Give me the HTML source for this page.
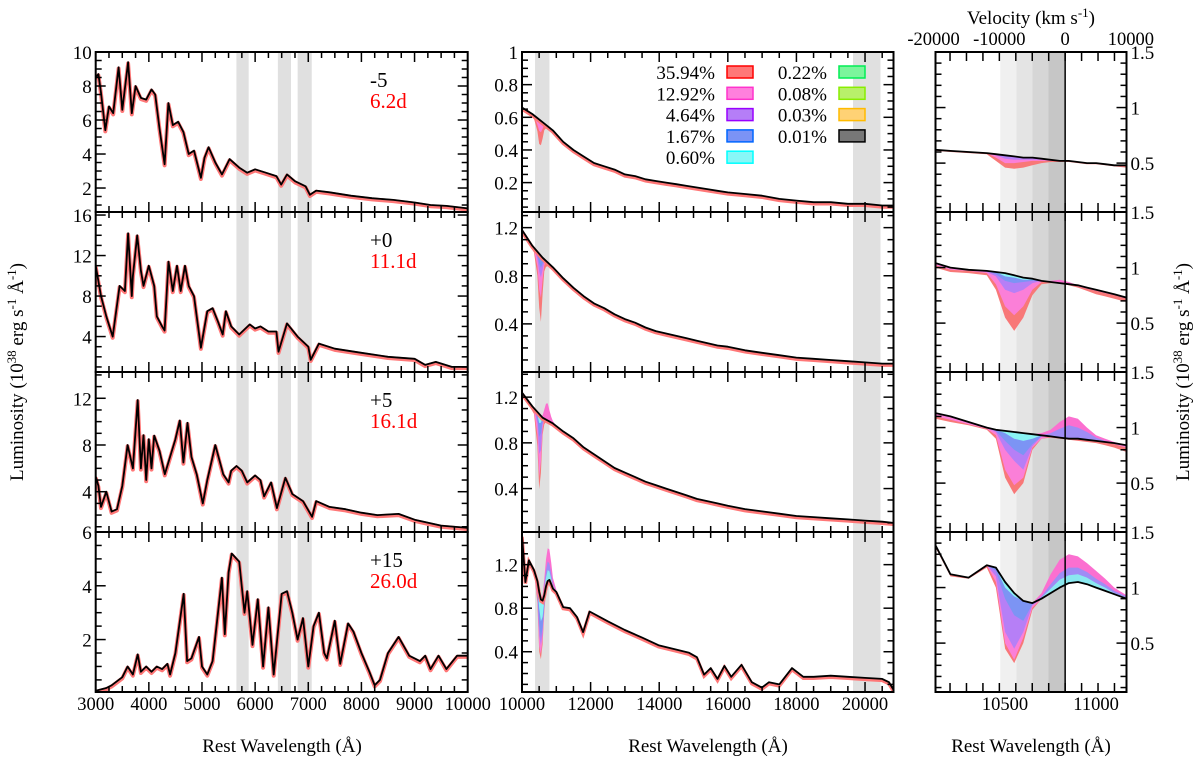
<!DOCTYPE html>
<html><head><meta charset="utf-8"><style>
html,body{margin:0;padding:0;background:#fff;}
svg{display:block;font-family:"Liberation Serif","DejaVu Serif",serif;}
svg text{font-family:"Liberation Serif","DejaVu Serif",serif;}
</style></head><body>
<svg id="fig" width="1200" height="761" viewBox="0 0 1200 761" font-family="Liberation Serif, DejaVu Serif, serif"></svg>
<script>
// ---------- DATA ----------
const leftWave1=[3000,3050,3100,3180,3250,3330,3430,3500,3610,3680,3750,3850,3950,4050,4120,4200,4297,4368,4450,4550,4650,4750,4850,4980,5050,5125,5250,5377,5520,5700,5850,6000,6200,6400,6490,6600,6750,6950,7030,7150,7400,7800,8200,8600,9000,9300,9600,10000];
const leftLum1=[8.5,8.7,7.6,5.4,6.8,6.4,9.1,6.6,9.4,6.4,8.0,7.3,7.2,7.8,7.5,5.5,3.4,7.0,5.7,5.9,5.3,4.0,4.2,2.6,3.8,4.4,3.5,2.8,3.7,3.2,2.9,3.1,2.9,2.7,2.2,2.8,2.4,2.1,1.6,1.85,1.75,1.55,1.4,1.3,1.15,1.0,0.95,0.8];
const leftWave2=[3000,3100,3200,3320,3450,3550,3610,3680,3700,3780,3850,3900,4000,4100,4150,4250,4297,4370,4450,4530,4600,4680,4750,4850,4980,5100,5200,5300,5390,5450,5550,5700,5900,6000,6100,6250,6400,6440,6600,6800,7000,7046,7200,7500,8000,8500,9000,9200,9400,9700,10000];
const leftLum2=[11,8,6,4.0,9,8.5,14.2,8,10,14,10.5,9,11,9,6,5,4.6,11.4,8.5,11,8.5,11,9,8,2.9,6.5,6.8,5.5,4.2,6.5,5,4.2,5.2,4.8,5,4.5,4.5,2.5,5.3,4,3,1.7,3.3,2.8,2.4,2.0,1.8,1.2,1.5,1.0,1.0];
const leftWave3=[3000,3050,3100,3200,3300,3400,3500,3600,3700,3790,3850,3900,3950,4000,4050,4100,4200,4300,4400,4500,4583,4650,4727,4800,4900,5015,5100,5250,5400,5500,5550,5650,5750,5850,6000,6100,6168,6300,6410,6570,6700,6900,7072,7150,7400,7700,8000,8300,8700,9000,9500,10000];
const leftLum3=[5.3,4.5,2.7,4,2.3,2.5,4.5,8,6,11.85,6,8.85,5,8.5,6,8.8,7.5,5.5,7,8.5,10.1,6.5,9.9,7,5.5,3.0,5,8.0,5.5,4.8,5.8,6.2,5.8,4.8,5.4,5,3.6,4.8,2.6,5.2,3.8,3.2,1.85,3.2,2.7,2.5,2.2,2.0,2.1,1.6,1.1,0.9];
const leftWave4=[3000,3200,3300,3500,3600,3700,3790,3850,3950,4050,4150,4250,4350,4400,4500,4655,4720,4800,4944,5000,5100,5200,5375,5430,5500,5560,5700,5800,5850,5950,6050,6150,6250,6350,6500,6600,6700,6800,6900,7000,7100,7200,7300,7350,7500,7600,7750,7850,8000,8150,8250,8350,8500,8700,8900,9100,9200,9300,9450,9600,9800,10000];
const leftLum4=[0.1,0.2,0.3,0.6,1.0,0.7,1.45,0.8,1.0,0.8,1.0,0.9,1.1,0.7,1.5,3.7,1.2,1.3,2.1,1.0,0.7,1.2,4.3,2.2,4.5,5.2,4.9,3.0,3.8,1.8,3.5,1.0,3.2,0.7,3.7,3.8,3.0,2.0,2.8,1.0,2.5,3.0,1.5,1.3,2.7,1.1,2.6,2.3,1.5,0.8,0.3,0.5,1.5,2.1,1.4,1.2,1.4,0.9,1.4,0.9,1.4,1.4];

const midWave=[10000,10300,10600,10900,11200,11500,11800,12100,12400,12700,13000,13300,13600,13900,14200,14500,14800,15100,15400,15700,16000,16500,17000,17500,18000,18500,19000,19500,20000,20500,20830];
const midLum1=[0.66,0.62,0.57,0.52,0.45,0.40,0.36,0.32,0.30,0.28,0.25,0.24,0.22,0.21,0.20,0.19,0.18,0.17,0.16,0.15,0.14,0.13,0.12,0.10,0.09,0.08,0.08,0.07,0.07,0.06,0.06];
const midLum2=[1.18,1.05,0.95,0.87,0.78,0.70,0.63,0.57,0.53,0.48,0.44,0.41,0.37,0.34,0.32,0.30,0.28,0.26,0.24,0.22,0.21,0.18,0.16,0.14,0.12,0.11,0.10,0.09,0.08,0.07,0.07];
const midLum3=[1.24,1.12,1.02,0.97,0.90,0.84,0.76,0.70,0.64,0.58,0.54,0.50,0.46,0.43,0.40,0.37,0.34,0.31,0.29,0.27,0.25,0.22,0.20,0.18,0.16,0.15,0.14,0.13,0.12,0.11,0.10];
const midWave4=[10000,10100,10200,10350,10450,10500,10550,10600,10650,10700,10750,10800,10850,10900,11000,11200,11400,11600,11780,11970,12500,13000,13500,13980,14500,14870,15100,15310,15500,15700,15900,16100,16400,16700,16990,17200,17500,17870,18200,18500,19000,19500,20000,20500,20700,20830];
const midLum4=[1.47,1.04,1.24,1.15,1.05,0.95,0.88,0.87,0.92,1.0,1.05,1.06,1.02,0.98,0.95,0.81,0.80,0.72,0.58,0.77,0.68,0.60,0.53,0.46,0.42,0.39,0.35,0.19,0.25,0.15,0.27,0.17,0.28,0.12,0.07,0.12,0.10,0.25,0.17,0.17,0.18,0.17,0.16,0.15,0.12,0.05];
const dipWave=[10200,10350,10450,10500,10550,10600,10650,10700,10750,10800,10850,10900,11000];
const midDrop1=[[0.02,0.02,0.08,0.15,0.15,0.10,0.04,0.02,0.02,0.02,0.02,0.02,0.02],[0,0,0.04,0.07,0.07,0.04,0.01,0,0,0,0,0,0]];
const midDrop2=[[0.03,0.04,0.2,0.45,0.55,0.3,0.1,0.05,0.03,0.03,0.03,0.03,0.03],[0,0.02,0.12,0.3,0.35,0.18,0.05,0,0,0,0,0,0],[0,0,0.06,0.15,0.18,0.1,0.02,0,0,0,0,0,0],[0,0,0.03,0.08,0.1,0.05,0,0,0,0,0,0,0]];
const midDrop3=[[0.03,0.05,0.3,0.66,0.5,0.15,0.05,0.02,0,0,0,0,0],[0,0.02,0.2,0.55,0.4,0.1,0,0,0,0,0,0,0],[0,0,0.1,0.35,0.3,0.06,0,0,0,0,0,0,0],[0,0,0.05,0.2,0.15,0.03,0,0,0,0,0,0,0],[0,0,0.02,0.08,0.06,0,0,0,0,0,0,0,0]];
const midDrop4=[[0,0.02,0.2,0.55,0.55,0.4,0.15,0.05,0,0,0,0,0],[0,0.02,0.15,0.5,0.5,0.35,0.12,0.03,0,0,0,0,0],[0,0,0.12,0.4,0.42,0.3,0.1,0,0,0,0,0,0],[0,0,0.1,0.3,0.35,0.25,0.1,0,0,0,0,0,0],[0,0,0.05,0.15,0.2,0.15,0.05,0,0,0,0,0,0]];
const midRise3=[[0,0,0,0,0,0.02,0.08,0.14,0.15,0.1,0.05,0.02,0]];
const midRise4=[[0,0,0,0,0,0.05,0.15,0.25,0.3,0.28,0.2,0.1,0.02],[0,0,0,0,0,0.03,0.1,0.15,0.18,0.15,0.1,0.05,0],[0,0,0,0,0,0.02,0.05,0.08,0.1,0.08,0.05,0.02,0]];

const rightWave=[10118,10200,10300,10400,10450,10500,10550,10600,10650,10700,10750,10800,10850,10900,10950,11000,11050,11100,11167];
const rightLum1=[0.62,0.61,0.60,0.59,0.58,0.57,0.56,0.55,0.55,0.54,0.53,0.52,0.52,0.51,0.50,0.50,0.49,0.48,0.48];
const rightLo1=[[0.61,0.60,0.59,0.58,0.52,0.46,0.45,0.46,0.48,0.50,0.51,0.51,0.51,0.50,0.49,0.49,0.48,0.47,0.46],[0.62,0.61,0.60,0.59,0.55,0.50,0.50,0.51,0.52,0.52,0.52,0.52,0.52,0.51,0.50,0.50,0.49,0.48,0.48],[0.62,0.61,0.60,0.59,0.57,0.54,0.53,0.53,0.53,0.53,0.53,0.52,0.52,0.51,0.50,0.50,0.49,0.48,0.48]];
const rightHi1=[];
const rightLum2=[1.04,1.00,0.98,0.97,0.96,0.95,0.93,0.91,0.90,0.88,0.87,0.86,0.85,0.84,0.82,0.80,0.78,0.76,0.73];
const rightLo2=[[1.00,0.96,0.95,0.93,0.80,0.55,0.43,0.55,0.75,0.85,0.86,0.86,0.84,0.82,0.79,0.76,0.74,0.72,0.69],[1.02,0.98,0.97,0.95,0.85,0.65,0.57,0.65,0.80,0.87,0.87,0.86,0.85,0.83,0.81,0.79,0.77,0.75,0.72],[1.04,1.00,0.98,0.96,0.92,0.80,0.77,0.80,0.86,0.88,0.87,0.86,0.85,0.84,0.82,0.80,0.78,0.76,0.73],[1.04,1.00,0.98,0.97,0.94,0.88,0.86,0.87,0.88,0.88,0.87,0.86,0.85,0.84,0.82,0.80,0.78,0.76,0.73],[1.04,1.00,0.98,0.97,0.96,0.92,0.91,0.89,0.89,0.88,0.87,0.86,0.85,0.84,0.82,0.80,0.78,0.76,0.73]];
const rightHi2=[[1.04,1.00,0.98,0.97,0.96,0.95,0.93,0.91,0.90,0.88,0.88,0.89,0.87,0.84,0.82,0.80,0.78,0.76,0.73]];
const rightLum3=[1.13,1.10,1.05,1.00,0.98,0.97,0.96,0.95,0.94,0.93,0.92,0.91,0.90,0.90,0.89,0.88,0.87,0.86,0.84];
const rightLo3=[[1.08,1.05,1.02,0.98,0.90,0.55,0.40,0.50,0.80,0.90,0.91,0.90,0.89,0.88,0.87,0.86,0.84,0.82,0.78],[1.10,1.07,1.03,0.99,0.93,0.62,0.48,0.55,0.82,0.90,0.92,0.91,0.90,0.90,0.89,0.88,0.87,0.85,0.82],[1.13,1.10,1.05,1.00,0.96,0.80,0.70,0.62,0.83,0.92,0.92,0.91,0.90,0.90,0.89,0.88,0.87,0.86,0.84],[1.13,1.10,1.05,1.00,0.97,0.88,0.80,0.75,0.85,0.92,0.92,0.91,0.90,0.90,0.89,0.88,0.87,0.86,0.84],[1.13,1.10,1.05,1.00,0.98,0.95,0.90,0.88,0.90,0.93,0.92,0.91,0.90,0.90,0.89,0.88,0.87,0.86,0.84]];
const rightHi3=[[1.13,1.10,1.05,1.00,0.98,0.97,0.96,0.95,0.94,0.95,0.98,1.05,1.10,1.08,1.00,0.93,0.90,0.87,0.84],[1.13,1.10,1.05,1.00,0.98,0.97,0.96,0.95,0.94,0.93,0.95,0.99,1.02,1.00,0.96,0.91,0.88,0.86,0.84]];
const rightLum4=[1.38,1.12,1.09,1.20,1.18,1.05,0.95,0.88,0.86,0.90,0.95,1.00,1.04,1.05,1.03,1.00,0.97,0.94,0.90];
const rightLo4=[[1.36,1.10,1.08,1.18,1.00,0.45,0.32,0.50,0.80,0.90,0.95,1.00,1.04,1.05,1.03,1.00,0.97,0.94,0.90],[1.38,1.12,1.09,1.20,1.05,0.50,0.35,0.55,0.82,0.90,0.95,1.00,1.04,1.05,1.03,1.00,0.97,0.94,0.90],[1.38,1.12,1.09,1.20,1.10,0.60,0.45,0.60,0.84,0.90,0.95,1.00,1.04,1.05,1.03,1.00,0.97,0.94,0.90],[1.38,1.12,1.09,1.20,1.15,0.90,0.75,0.70,0.85,0.90,0.95,1.00,1.04,1.05,1.03,1.00,0.97,0.94,0.90],[1.38,1.12,1.09,1.20,1.18,1.00,0.92,0.88,0.86,0.90,0.95,1.00,1.04,1.05,1.03,1.00,0.97,0.94,0.90]];
const rightHi4=[[1.38,1.12,1.09,1.20,1.18,1.05,0.95,0.88,0.86,0.95,1.12,1.25,1.30,1.28,1.22,1.15,1.08,1.00,0.93],[1.38,1.12,1.09,1.20,1.18,1.05,0.95,0.88,0.86,0.92,1.03,1.13,1.18,1.18,1.14,1.08,1.03,0.97,0.92],[1.38,1.12,1.09,1.20,1.18,1.05,0.95,0.88,0.86,0.91,0.99,1.07,1.11,1.12,1.09,1.04,1.00,0.95,0.91]];

const phaseLabels=["-5","+0","+5","+15"];
const epochLabels=["6.2d","11.1d","16.1d","26.0d"];
const legendLabels=["35.94%","12.92%","4.64%","1.67%","0.60%","0.22%","0.08%","0.03%","0.01%"];
const legendColors=["#f77","#ff80dd","#b57ef7","#7b93f5","#88f7f7","#7cf59c","#b8f06a","#ffd275","#777"];
const legendBorders=["#f00","#f3c","#90f","#06f","#0ff","#0e5","#8e0","#fb0","#000"];
const velTicks=[-20000,-10000,0,10000];

// ---------- LAYOUT ----------
const NS="http://www.w3.org/2000/svg";
const FONT="Liberation Serif, DejaVu Serif, serif";
const svg=document.getElementById('fig');
const tops=[52,212,372,532], PH=160;
const cols={
 left:{x0:95.7,x1:467.7,a:3000,b:10000},
 mid:{x0:522,x1:893.5,a:10000,b:20830},
 right:{x0:935.5,x1:1126.5,a:10118,b:11167}};
const leftRanges=[[0.59,10],[0.5,16.3],[0.55,14.25],[0.05,6]];
const midRanges=[[0.02,1.0],[0,1.33],[0.02,1.42],[0.03,1.5]];
const rightRange=[0.06,1.5];
const fillCols=["#f87878","#fb7fd8","#b67ff6","#7c94f4","#8af4f4"];
const emisCols=["#fb6fd0","#9f8cf5","#8ae8f0"];

function el(tag,attrs,parent){const e=document.createElementNS(NS,tag);for(const k in attrs)e.setAttribute(k,attrs[k]);(parent||svg).appendChild(e);return e;}
function sx(c,w){return c.x0+(w-c.a)/(c.b-c.a)*(c.x1-c.x0);}
function sy(r,rg,v){return tops[r]+(rg[1]-v)/(rg[1]-rg[0])*PH;}
function interp(ws,vs,w){if(w<=ws[0])return vs[0];for(let i=1;i<ws.length;i++){if(w<=ws[i]){const t=(w-ws[i-1])/(ws[i]-ws[i-1]);return vs[i-1]+t*(vs[i]-vs[i-1]);}}return vs[vs.length-1];}
function lineD(c,r,rg,ws,vs,dy){return ws.map((w,i)=>(i?'L':'M')+sx(c,w).toFixed(1)+','+(sy(r,rg,vs[i])+(dy||0)).toFixed(1)).join('');}
function bandD(c,r,rg,ws,lo,hi){let d=ws.map((w,i)=>(i?'L':'M')+sx(c,w).toFixed(1)+','+sy(r,rg,hi[i]).toFixed(1)).join('');for(let i=ws.length-1;i>=0;i--)d+='L'+sx(c,ws[i]).toFixed(1)+','+sy(r,rg,lo[i]).toFixed(1);return d+'Z';}

let clipN=0;
function panelGroup(c,r,name){
 const id='clip'+(clipN++);
 const cp=el('clipPath',{id:id});
 el('rect',{x:c.x0,y:tops[r],width:c.x1-c.x0,height:PH},cp);
 const g=el('g',{'clip-path':'url(#'+id+')'});
 
 
 return g;
}
function frame(c,r,name){
 const f=el('rect',{x:c.x0,y:tops[r],width:c.x1-c.x0,height:PH,fill:'none',stroke:'#000','stroke-width':2});
 
 
}
function xTicks(c,r,step,major){
 const list=[];
 for(let w=Math.ceil(c.a/step)*step;w<=c.b;w+=step)list.push(w);
 list.forEach(w=>{const x=sx(c,w);if(x<c.x0||x>c.x1)return;const L=(Math.abs(w/major-Math.round(w/major))<1e-6)?10:6;
  el('line',{x1:x,x2:x,y1:tops[r]+PH,y2:tops[r]+PH-L,stroke:'#000','stroke-width':1.5});
  el('line',{x1:x,x2:x,y1:tops[r],y2:tops[r]+L,stroke:'#000','stroke-width':1.5});});
}
function yTicks(c,r,rg,step,major){
 for(let v=Math.ceil(rg[0]/step-1e-6)*step;v<=rg[1]+1e-6;v+=step){const y=sy(r,rg,v);const isM=Math.abs(v/major-Math.round(v/major))<1e-6;const L=isM?10:6;
  el('line',{x1:c.x0,x2:c.x0+L,y1:y,y2:y,stroke:'#000','stroke-width':1.5});
  el('line',{x1:c.x1,x2:c.x1-L,y1:y,y2:y,stroke:'#000','stroke-width':1.5});}
}
function text(x,y,s,opt,name){const t=el('text',Object.assign({x:x,y:y,'font-size':19,fill:'#000','font-family':FONT},opt||{}));t.textContent=s;
 
 return t;}

// ---------- LEFT COLUMN ----------
const leftW=[leftWave1,leftWave2,leftWave3,leftWave4], leftV=[leftLum1,leftLum2,leftLum3,leftLum4];
const leftBands=[[5648,5879],[6428,6675],[6800,7065]];
const leftYLabels=[[2,4,6,8,10],[4,8,12,16],[4,8,12],[2,4,6]];
const leftYStep=[[0.5,2],[1,4],[1,4],[0.5,2]];
for(let r=0;r<4;r++){
 const c=cols.left, rg=leftRanges[r];
 const g=panelGroup(c,r,'left-panel-'+(r+1));
 leftBands.forEach(b=>{const bb=el('rect',{x:sx(c,b[0]),y:tops[r],width:sx(c,b[1])-sx(c,b[0]),height:PH,fill:'#e0e0e0'},g);
  
  });
 const red=el('path',{d:lineD(c,r,rg,leftW[r],leftV[r],1.2),fill:'none',stroke:'#f77','stroke-width':4,'stroke-linejoin':'round'},g);
 
 
 const blk=el('path',{d:lineD(c,r,rg,leftW[r],leftV[r]),fill:'none',stroke:'#000','stroke-width':1.8,'stroke-linejoin':'round'},g);
 
 
 frame(c,r,'left-panel-frame');
 xTicks(c,r,250,1000);
 yTicks(c,r,rg,leftYStep[r][0],leftYStep[r][1]);
 leftYLabels[r].forEach(v=>text(c.x0-4,sy(r,rg,v)+7,String(v),{'text-anchor':'end'},'y-tick-label'));
 text(370,tops[r]+35,phaseLabels[r],{'font-size':21},'phase-label');
 text(370,tops[r]+56,epochLabels[r],{'font-size':21,fill:'#f00'},'epoch-label');
}
[3000,4000,5000,6000,7000,8000,9000,10000].forEach(w=>text(sx(cols.left,w),710,String(w),{'text-anchor':'middle','font-size':18.5},'x-tick-label'));

// ---------- MIDDLE COLUMN ----------
const midW=[midWave,midWave,midWave,midWave4], midV=[midLum1,midLum2,midLum3,midLum4];
const midDrops=[midDrop1,midDrop2,midDrop3,midDrop4], midRises=[[],[],midRise3,midRise4];
const midYLabels=[[0.2,0.4,0.6,0.8,1],[0.4,0.8,1.2],[0.4,0.8,1.2],[0.4,0.8,1.2]];
const midYStep=[[0.05,0.2],[0.1,0.4],[0.1,0.4],[0.1,0.4]];
for(let r=0;r<4;r++){
 const c=cols.mid, rg=midRanges[r];
 const g=panelGroup(c,r,'middle-panel-'+(r+1));
 [[10380,10800],[19650,20450]].forEach(b=>{const bb=el('rect',{x:sx(c,b[0]),y:tops[r],width:sx(c,b[1])-sx(c,b[0]),height:PH,fill:'#e0e0e0'},g);
  
  });
 const base=dipWave.map(w=>interp(midW[r],midV[r],w));
 midDrops[r].forEach((dr,i)=>{const lo=base.map((b,j)=>b-dr[j]);
  const p=el('path',{d:bandD(c,r,rg,dipWave,lo,base),fill:fillCols[i]},g);
  
  });
 midRises[r].forEach((dr,i)=>{const hi=base.map((b,j)=>b+dr[j]);
  const p=el('path',{d:bandD(c,r,rg,dipWave,base,hi),fill:emisCols[i]},g);
  
  });
 const red=el('path',{d:lineD(c,r,rg,midW[r],midV[r],1.5),fill:'none',stroke:'#f77','stroke-width':3.5},g);
 
 
 const blk=el('path',{d:lineD(c,r,rg,midW[r],midV[r]),fill:'none',stroke:'#000','stroke-width':1.8,'stroke-linejoin':'round'},g);
 
 
 frame(c,r,'middle-panel-frame');
 xTicks(c,r,500,2000);
 yTicks(c,r,rg,midYStep[r][0],midYStep[r][1]);
 midYLabels[r].forEach(v=>text(c.x0-4,sy(r,rg,v)+7,String(v),{'text-anchor':'end'},'y-tick-label'));
}
[10000,12000,14000,16000,18000,20000].forEach(w=>text(sx(cols.mid,w),710,String(w),{'text-anchor':'middle','font-size':18.5},'x-tick-label'));

// legend
for(let i=0;i<legendLabels.length;i++){
 const col=i<5?0:1, row=i<5?i:i-5;
 const tx=col?827:715, bx=col?839:727, y=72+row*21.3;
 text(tx,y+7,legendLabels[i],{'text-anchor':'end'},'legend-label');
 const b=el('rect',{x:bx,y:y-6,width:26,height:12,fill:legendColors[i],stroke:legendBorders[i],'stroke-width':1.5});
 
 
}

// ---------- RIGHT COLUMN ----------
const rightV=[rightLum1,rightLum2,rightLum3,rightLum4];
const rightLo=[rightLo1,rightLo2,rightLo3,rightLo4], rightHi=[rightHi1,rightHi2,rightHi3,rightHi4];
const shadeEdges=[1000.3,1016.4,1032.5,1048.5,1064.4];
const shadeCols=['#f0f0f0','#e4e4e4','#d6d6d6','#c6c6c6'];
const lam0=10830, cLight=299792;
function velToWave(v){return lam0*(1+v/cLight);}
for(let r=0;r<4;r++){
 const c=cols.right, rg=rightRange;
 const g=panelGroup(c,r,'right-panel-'+(r+1));
 for(let k=0;k<4;k++){const s=el('rect',{x:shadeEdges[k],y:tops[r],width:shadeEdges[k+1]-shadeEdges[k],height:PH,fill:shadeCols[k]},g);
  
  }
 rightLo[r].forEach((lo,i)=>{const p=el('path',{d:bandD(c,r,rg,rightWave,lo,rightV[r]),fill:fillCols[i]},g);
  
  });
 rightHi[r].forEach((hi,i)=>{const p=el('path',{d:bandD(c,r,rg,rightWave,rightV[r],hi),fill:emisCols[i]},g);
  
  });
 const vl=el('line',{x1:sx(c,lam0),x2:sx(c,lam0),y1:tops[r],y2:tops[r]+PH,stroke:'#000','stroke-width':1.5},g);
 
 
 const blk=el('path',{d:lineD(c,r,rg,rightWave,rightV[r]),fill:'none',stroke:'#000','stroke-width':1.8,'stroke-linejoin':'round'},g);
 
 
 frame(c,r,'right-panel-frame');
 const vt=[];for(let v=-20000;v<=10000;v+=2500)vt.push(velToWave(v));
 vt.forEach(w=>{const x=sx(c,w);if(x<c.x0+1||x>c.x1-1)return;
  el('line',{x1:x,x2:x,y1:tops[r]+PH,y2:tops[r]+PH-9,stroke:'#000','stroke-width':1.5});
  el('line',{x1:x,x2:x,y1:tops[r],y2:tops[r]+9,stroke:'#000','stroke-width':1.5});});
 yTicks(c,r,rg,0.1,0.5);
 [0.5,1,1.5].forEach(v=>text(c.x1+4,sy(r,rg,v)+7,String(v),{},'y-tick-label-right'));
}
[10500,11000].forEach(w=>text(sx(cols.right,w),710,String(w),{'text-anchor':'middle','font-size':18.5},'x-tick-label'));
velTicks.forEach(v=>text(sx(cols.right,velToWave(v)),45,String(v),{'text-anchor':'middle','font-size':18.5},'velocity-tick-label'));

// ---------- TITLES ----------
const vtt=text(1031,24,'',{'text-anchor':'middle','font-size':19},'velocity-axis-title');
vtt.innerHTML='Velocity (km s<tspan dy="-7" font-size="13">-1</tspan><tspan dy="7">)</tspan>';
[282,708,1031].forEach(x=>text(x,752,'Rest Wavelength (Å)',{'text-anchor':'middle','font-size':19},'x-axis-title'));
const ylab='Luminosity (10<tspan dy="-7" font-size="13">38</tspan><tspan dy="7"> erg s</tspan><tspan dy="-7" font-size="13">-1</tspan><tspan dy="7"> Å</tspan><tspan dy="-7" font-size="13">-1</tspan><tspan dy="7">)</tspan>';
const yl=text(0,0,'',{'text-anchor':'middle','transform':'translate(23,372) rotate(-90)','font-size':19},'y-axis-title-left');
yl.innerHTML=ylab;
const yr=text(0,0,'',{'text-anchor':'middle','transform':'translate(1189,372) rotate(-90)','font-size':19},'y-axis-title-right');
yr.innerHTML=ylab;
</script>
</body></html>
